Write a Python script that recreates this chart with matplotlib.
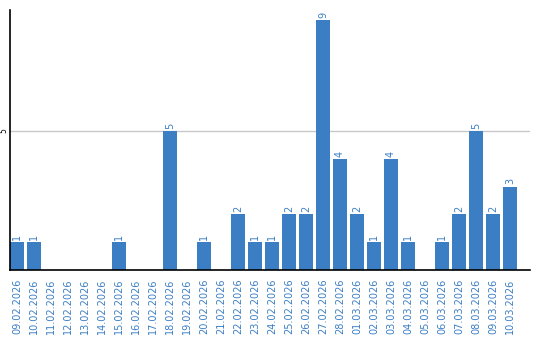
import matplotlib
matplotlib.use("Agg")
import matplotlib.pyplot as plt
import numpy as np

# dates and counts
dates = ["09.02.2026", "10.02.2026", "11.02.2026", "12.02.2026", "13.02.2026",
         "14.02.2026", "15.02.2026", "16.02.2026", "17.02.2026", "18.02.2026",
         "19.02.2026", "20.02.2026", "21.02.2026", "22.02.2026", "23.02.2026",
         "24.02.2026", "25.02.2026", "26.02.2026", "27.02.2026", "28.02.2026",
         "01.03.2026", "02.03.2026", "03.03.2026", "04.03.2026", "05.03.2026",
         "06.03.2026", "07.03.2026", "08.03.2026", "09.03.2026", "10.03.2026"]
counts = [1, 1, 0, 0, 0, 0, 1, 0, 0, 5,
          0, 1, 0, 2, 1, 1, 2, 2, 9, 4,
          2, 1, 4, 1, 0, 1, 2, 5, 2, 3]

blue = "#3b7ec4"

fig = plt.figure(figsize=(5.4, 3.4), dpi=100)
ax = fig.add_axes([10/540, 1-270/340, 520/540, 260/340])

x = np.arange(len(dates))
ax.bar(x, counts, width=0.82, color=blue, zorder=2)

for xi, c in zip(x, counts):
    if c > 0:
        ax.text(xi, c + 0.08, str(c), rotation=90, ha="center", va="bottom",
                color=blue, fontsize=7)

ax.set_xlim(-0.41, 30.18)
ax.set_ylim(0, 9.35)
ax.set_yticks([5])
ax.set_yticklabels(["5"], rotation=90, va="center", fontsize=5.5)
ax.yaxis.grid(True, color="#c8c8c8", linewidth=1, zorder=0)
ax.set_xticks(x)
ax.set_xticklabels(dates, rotation=90, fontsize=7, color=blue)
ax.tick_params(axis="x", length=0, pad=6)
ax.tick_params(axis="y", length=0, pad=1)

for s in ["top", "right"]:
    ax.spines[s].set_visible(False)
for s in ["left", "bottom"]:
    ax.spines[s].set_linewidth(1.2)
    ax.spines[s].set_zorder(3)

fig.savefig("out.png", dpi=100)
